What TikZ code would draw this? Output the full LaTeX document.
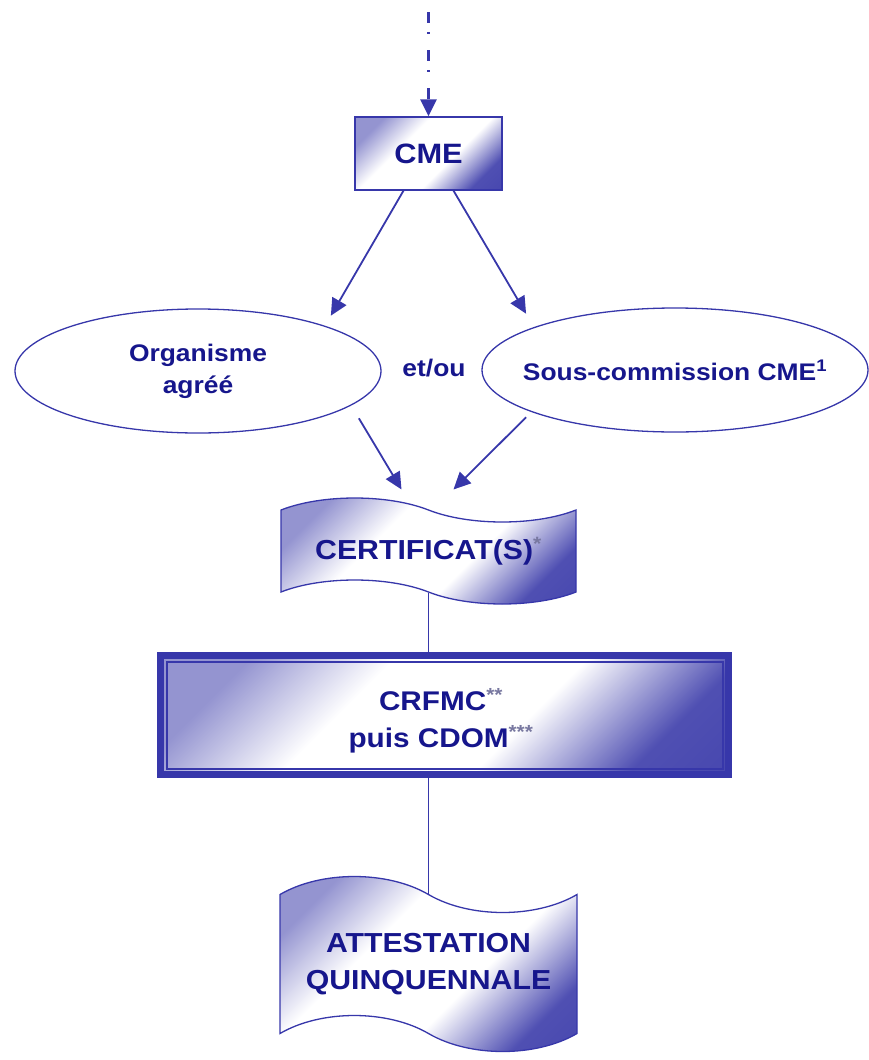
\documentclass[tikz,border=0pt]{standalone}
\usepackage{fontspec}
\setmainfont{Liberation Sans}[FakeStretch=1.1]
\usetikzlibrary{arrows.meta,shapes.geometric,shapes.symbols}
\definecolor{navy}{RGB}{22,22,140}
\definecolor{edge}{RGB}{55,55,170}
\definecolor{bleu}{RGB}{60,60,170}
\definecolor{gris}{RGB}{120,120,160}
% degrade diagonal : bleu aux coins, blanc au milieu
\pgfdeclareverticalshading{vague}{100bp}{color(0bp)=(bleu); color(25bp)=(bleu!90);
    color(41bp)=(white); color(61bp)=(white); color(76bp)=(bleu!55); color(100bp)=(bleu!55)}
\newcommand{\renvoi}[1]{\textsuperscript{\color{gris}#1}}

\begin{document}
\begin{tikzpicture}[x=1pt,y=-1pt,
    every node/.style={font=\bfseries\fontsize{24}{32}\selectfont, text=navy, align=center},
    grad/.style={shading=vague, shading angle=45},
    fleche/.style={draw=edge, line width=1.8pt, -{Triangle[length=17pt,width=16pt]}},
    trait/.style={draw=edge, line width=1.2pt},
    bulle/.style={ellipse, draw=edge, line width=1.3pt, inner sep=0pt, minimum height=124pt},
    bande/.style={tape, draw=edge, line width=1.3pt, grad, tape bend top=out and in,
        tape bend bottom=out and in, inner sep=0pt}]
    \useasboundingbox (0,0) rectangle (868,1060);

    \coordinate (depart) at (428.5,12);
    \node[draw=edge, line width=1.3pt, grad, minimum width=147pt, minimum height=73pt,
        font=\bfseries\fontsize{28}{34}\selectfont] (cme) at (428.5,153.5) {CME};

    \node[bulle, minimum width=366pt] (orga) at (198,371) {Organisme\\agréé};
    \node[bulle, minimum width=386pt] (sous) at (675,370) {\makebox[240pt]{Sous-commission CME\textsuperscript{1}}};
    \node (etou) at (434,368) {et/ou};

    \node[bande, minimum width=295pt, minimum height=106pt, tape bend height=24pt,
        font=\bfseries\fontsize{27.5}{34}\selectfont]
        (cert) at (428.5,551) {CERTIFICAT(S)\renvoi{*}};

    % cadre double
    \node[draw=edge, line width=7pt, grad, minimum width=568pt, minimum height=119pt] (crfmc) at (444.5,715) {};
    \draw[trait, line width=2pt] ([shift={(9.5,9.5)}]crfmc.north west) rectangle ([shift={(-9.5,-9.5)}]crfmc.south east);
    \node[font=\bfseries\fontsize{27}{37}\selectfont] (crfmctxt) at (441,721)
        {CRFMC\renvoi{**}\\puis CDOM\renvoi{***}};

    \node[bande, minimum width=297pt, minimum height=175pt, tape bend height=36pt,
        font=\bfseries\fontsize{27.5}{37}\selectfont]
        (attest) at (428.5,964) {ATTESTATION\\QUINQUENNALE};

    \draw[fleche, line width=2.6pt, dash pattern=on 11pt off 9pt on 2pt off 16pt] (depart) -- (cme);
    \draw[fleche] ([xshift=-25pt]cme.south) -- ([shift={(3,-11)}]orga.north east);
    \draw[fleche] ([xshift=25pt]cme.south) -- ([shift={(-12,-12)}]sous.north west);
    \draw[fleche] ([shift={(31,3)}]orga.south east) -- ([shift={(-27,-20)}]cert.north);
    \draw[fleche] ([shift={(-12,3)}]sous.south west) -- ([shift={(25,-20)}]cert.north);
    \draw[trait] (cert.south) -- (cert.south |- crfmc.north);
    \draw[trait] (crfmc.south -| cert.south) -- (attest.north);
\end{tikzpicture}
\end{document}
